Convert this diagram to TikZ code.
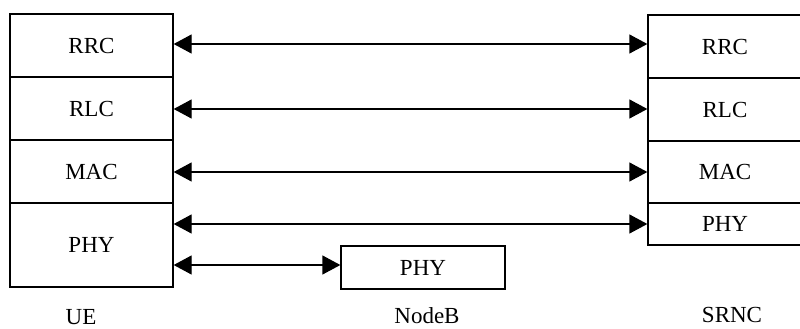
\documentclass[tikz,border=0pt]{standalone}
\usepackage{fontspec}
\setmainfont{Liberation Serif}
\usetikzlibrary{arrows.meta}
\tikzset{
    layer/.style = {draw, line width = 1.3pt, inner sep = 0pt, minimum width = 163pt},
    peer/.style = {line width = 1.3pt, {Triangle[length = 18pt, width = 19pt]}-{Triangle[length = 18pt, width = 19pt]}},
    lbl/.style = {inner sep = 0pt}
}
\begin{document}
\begin{tikzpicture}[x = 1pt, y = -1pt, font = \fontsize{23}{26}\selectfont]
        \useasboundingbox (0, 0) rectangle (800, 329);
        \node [layer, minimum height = 63pt] (uerrc) at (91.5, 45.5) {RRC};
        \node [layer, minimum height = 63pt] (uerlc) at (91.5, 108.5) {RLC};
        \node [layer, minimum height = 63pt] (uemac) at (91.5, 171.5) {MAC};
        \node [layer, minimum height = 84pt] (uephy) at (91.5, 245) {PHY};
        \node [layer, minimum width = 154pt, minimum height = 63pt] (srrrc) at (725, 46.5) {RRC};
        \node [layer, minimum width = 154pt, minimum height = 63pt] (srrlc) at (725, 109.5) {RLC};
        \node [layer, minimum width = 154pt, minimum height = 62pt] (srmac) at (725, 172) {MAC};
        \node [layer, minimum width = 154pt, minimum height = 42pt] (srphy) at (725, 224) {PHY};
        \node [layer, minimum width = 164pt, minimum height = 43pt] (nbphy) at (423, 267.5) {PHY};
        \node [lbl] (ue) at (81, 317) {UE};
        \node [lbl] (nodeb) at (427, 316) {NodeB};
        \node [lbl] (srnc) at (732, 315) {SRNC};
        \draw [peer] (uerrc.east) ++(0, -1.5) coordinate (a) -- (a -| srrrc.west);
        \draw [peer] (uerlc.east) ++(0, 0.5) coordinate (b) -- (b -| srrlc.west);
        \draw [peer] (uemac.east |- srmac.west) -- (srmac.west);
        \draw [peer] (uephy.east |- srphy.west) -- (srphy.west);
        \draw [peer] (uephy.east |- nbphy.west) ++(0, -2.5) coordinate (c) -- (c -| nbphy.west);
    \end{tikzpicture}
\end{document}
